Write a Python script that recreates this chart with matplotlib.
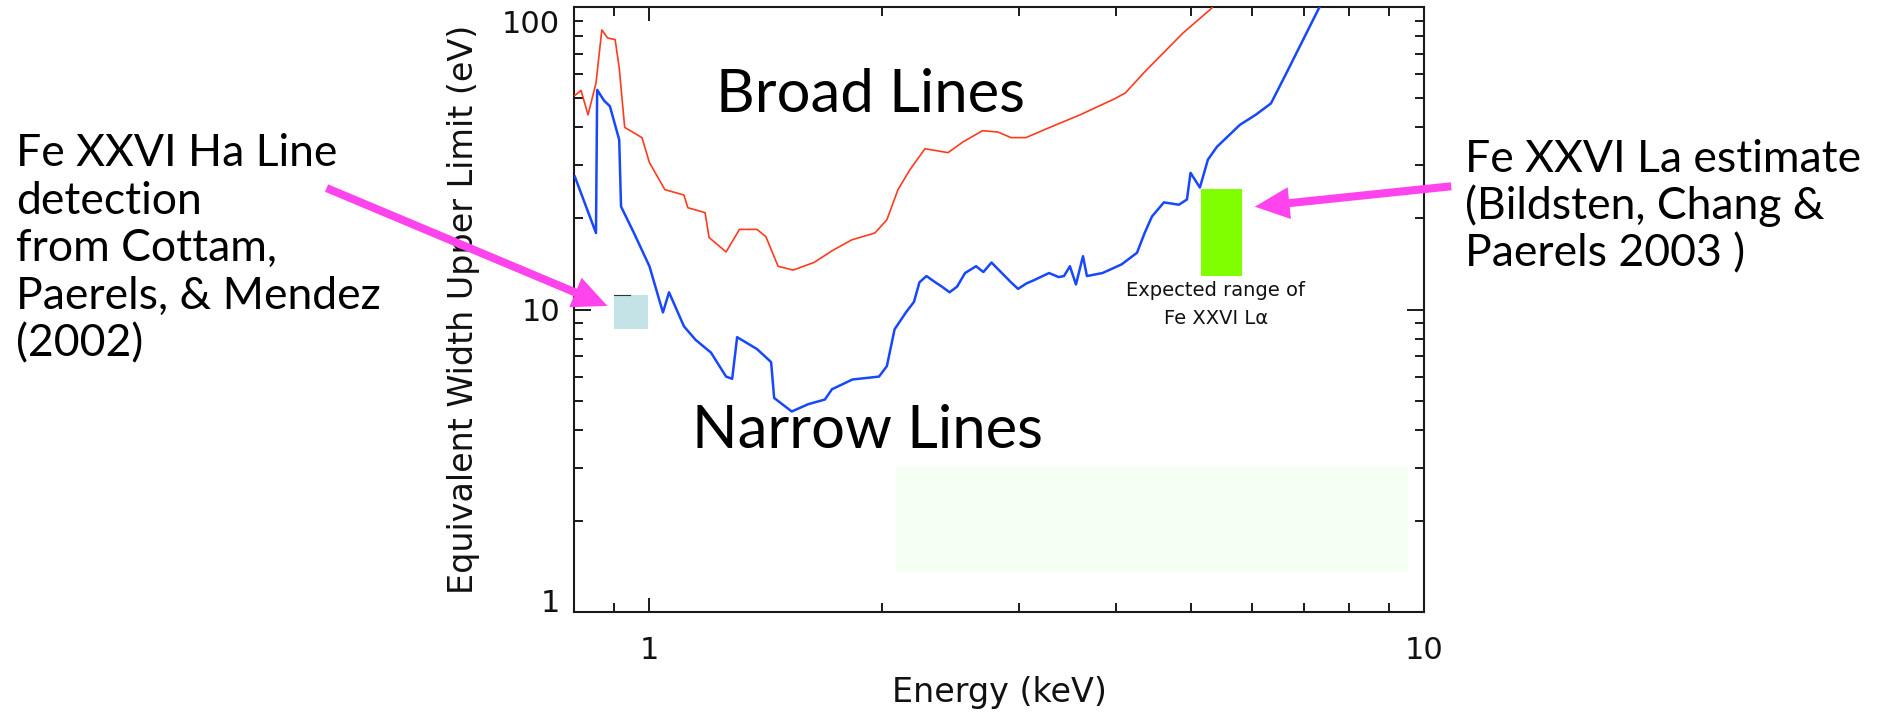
import numpy as np
import matplotlib
matplotlib.use('Agg')
import matplotlib.pyplot as plt
from matplotlib.patches import Rectangle, FancyArrowPatch
from matplotlib.ticker import LogLocator, NullFormatter, FixedLocator
import matplotlib.transforms as mtransforms


# upper limits on line equivalent width (eV) versus energy (keV)
broad_energy = [0.802, 0.817, 0.834, 0.854, 0.869, 0.884, 0.904, 0.915, 0.930, 0.979,
                1.001, 1.048, 1.109, 1.122, 1.181, 1.195, 1.257, 1.308, 1.378, 1.415,
                1.467, 1.534, 1.632, 1.727, 1.827, 1.956, 2.027, 2.095, 2.171, 2.270,
                2.431, 2.541, 2.693, 2.820, 2.931, 3.064, 3.282, 3.598, 3.980, 4.118,
                4.360, 4.886, 5.319, 5.40]
broad_ew = [51, 53, 44, 56, 84, 79, 78, 63, 40, 37,
            30.6, 24.9, 23.9, 21.7, 20.9, 17.3, 15.5, 18.4, 18.4, 17.4,
            13.9, 13.5, 14.3, 15.7, 17.0, 17.9, 19.8, 24.9, 29, 34,
            33, 35.8, 39, 38.6, 37, 37, 39.9, 44, 49.6, 52,
            61, 82, 99, 105]

narrow_energy = [0.802, 0.854, 0.857, 0.875, 0.890, 0.915, 0.920, 0.956, 1.001, 1.042,
                 1.061, 1.109, 1.148, 1.202, 1.257, 1.280, 1.299, 1.378, 1.437, 1.450,
                 1.528, 1.603, 1.686, 1.722, 1.830, 1.980, 2.027, 2.074, 2.145, 2.197,
                 2.233, 2.280, 2.330, 2.387, 2.442, 2.497, 2.557, 2.642, 2.700, 2.766,
                 2.828, 2.931, 2.993, 3.070, 3.138, 3.282, 3.377, 3.431, 3.492, 3.555,
                 3.630, 3.673, 3.847, 4.072, 4.262, 4.360, 4.456, 4.617, 4.827, 4.944,
                 4.997, 5.138, 5.262, 5.405, 5.788, 6.063, 6.346, 6.634, 6.948, 7.317,
                 7.40]
narrow_ew = [27.5, 17.9, 53.2, 49, 47, 36.4, 21.9, 17.9, 13.9, 9.78,
             11.4, 8.8, 7.94, 7.2, 6.0, 5.9, 8.1, 7.4, 6.7, 5.1,
             4.6, 4.86, 5.04, 5.45, 5.87, 6.0, 6.5, 8.6, 9.78, 10.6,
             12.3, 12.9, 12.4, 11.9, 11.4, 11.9, 13.2, 13.9, 13.3, 14.3,
             13.5, 12.3, 11.7, 12.2, 12.5, 13.2, 12.8, 12.9, 13.9, 12.1,
             15.0, 12.9, 13.2, 14.1, 15.4, 17.9, 20.3, 22.6, 22.2, 23.1,
             28.3, 25.3, 31.3, 34.5, 40.8, 44, 48, 60, 76, 99,
             104]

# measured Fe XXVI H-alpha (Cottam et al. 2002) and predicted L-alpha range
ha_energy = [0.90, 0.997]
ha_ew = [8.6, 11.2]
ha_edge_energy = [0.90, 0.945]
la_energy = [5.15, 5.82]
la_ew = [12.9, 25.1]

# old legend area, blanked out
legend_energy = [2.08, 9.53]
legend_ew = [1.36, 3.03]

W, H = 1877, 714
fig = plt.figure(figsize=(W / 100, H / 100), dpi=100)
ax = fig.add_axes([574 / W, 1 - 612 / H, 850 / W, 605 / H])

ax.set_xscale('log')
ax.set_yscale('log')
ax.set_xlim(0.8, 10)
ax.set_ylim(1, 100)

ax.add_patch(Rectangle((legend_energy[0], legend_ew[0]),
                       legend_energy[1] - legend_energy[0], legend_ew[1] - legend_ew[0],
                       facecolor='#f6fff4', edgecolor='none', zorder=1))

ax.plot(broad_energy, broad_ew, color='#ff3b1e', lw=1.2, zorder=3)
ax.plot(narrow_energy, narrow_ew, color='#1747ff', lw=1.8, zorder=3)

ax.add_patch(Rectangle((ha_energy[0], ha_ew[0]), ha_energy[1] - ha_energy[0],
                       ha_ew[1] - ha_ew[0], facecolor='#c4e3e6', edgecolor='none', zorder=4))
ax.plot(ha_edge_energy, [ha_ew[1], ha_ew[1]], color='#333333', lw=0.8, zorder=4)
ax.add_patch(Rectangle((la_energy[0], la_ew[0]), la_energy[1] - la_energy[0],
                       la_ew[1] - la_ew[0], facecolor='#80ff00', edgecolor='none', zorder=4))

# axes in the old IDL look: ticks inside on every side
frame = '#1a1a1a'
for s in ax.spines.values():
    s.set_linewidth(1.5)
    s.set_color(frame)
ax.xaxis.set_major_locator(FixedLocator([1, 10]))
ax.yaxis.set_major_locator(FixedLocator([1, 10, 100]))
ax.xaxis.set_minor_locator(LogLocator(base=10, subs=np.arange(2, 10)))
ax.yaxis.set_minor_locator(LogLocator(base=10, subs=np.arange(2, 10)))
ax.xaxis.set_minor_formatter(NullFormatter())
ax.yaxis.set_minor_formatter(NullFormatter())
ax.set_xticklabels(['1', '10'])
ax.set_yticklabels(['1', '10', '100'])
ax.tick_params(which='both', direction='in', top=True, right=True,
               width=1.4, color=frame, labelsize=22, labelcolor='#111111')
ax.tick_params(axis='x', which='major', length=10, pad=17)
ax.tick_params(axis='y', which='major', length=12, pad=10)
ax.tick_params(which='minor', length=6.5)

ylabs = ax.get_yticklabels()
ylabs[0].set_transform(ylabs[0].get_transform() +
                       mtransforms.ScaledTranslation(0, 8.5 / 72, fig.dpi_scale_trans))
ylabs[2].set_transform(ylabs[2].get_transform() +
                       mtransforms.ScaledTranslation(0, -10.5 / 72, fig.dpi_scale_trans))

ax.set_xlabel('Energy (keV)', fontsize=24, color='#111111', labelpad=8)
ax.set_ylabel('Equivalent Width Upper Limit (eV)', fontsize=24, color='#111111', labelpad=16)


def px(x, y):
    return x / W, 1 - y / H


fig.text(*px(1216, 296), 'Expected range of', ha='center', va='baseline',
         fontsize=14, color='#111111')
fig.text(*px(1216, 324), 'Fe XXVI L\u03b1', ha='center', va='baseline',
         fontsize=14, color='#111111')

slide_font = ['Lato', 'DejaVu Sans']
fig.text(*px(716, 112), 'Broad Lines', family=slide_font, fontsize=43, va='baseline')
fig.text(*px(692, 448), 'Narrow Lines', family=slide_font, fontsize=43, va='baseline')

left_note = ['Fe XXVI Ha Line', 'detection', 'from Cottam,', 'Paerels, & Mendez', '(2002)']
for i, line in enumerate(left_note):
    fig.text(*px(16, 166 + 47.5 * i), line, family=slide_font, fontsize=32, va='baseline')

right_note = ['Fe XXVI La estimate', '(Bildsten, Chang &', 'Paerels 2003 )']
for i, line in enumerate(right_note):
    fig.text(*px(1465, 172 + 47.3 * i), line, family=slide_font, fontsize=32, va='baseline')

# magenta pointers
pink = '#ff44ee'
for tail, tip in [((324, 187), (610, 307)), ((1454, 186), (1252, 207))]:
    arrow = FancyArrowPatch(px(*tail), px(*tip), transform=fig.transFigure,
                            arrowstyle='simple,head_length=25,head_width=23,tail_width=5.8',
                            mutation_scale=1, color=pink, lw=0, zorder=10)
    fig.add_artist(arrow)

fig.savefig('out.png', dpi=100)
